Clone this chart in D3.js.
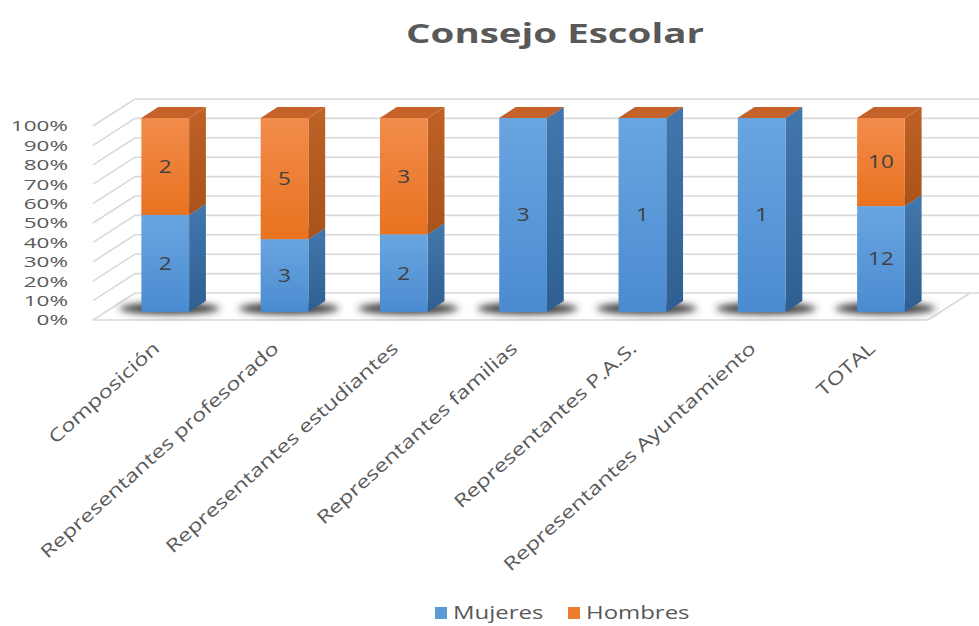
<!DOCTYPE html>
<html><head><meta charset="utf-8">
<script src="https://cdn.jsdelivr.net/npm/d3@7/dist/d3.min.js"></script>
<style>body{margin:0;background:#fff}svg{display:block}text{font-family:"Open Sans",sans-serif}</style>
</head><body>
<svg id="c" width="979" height="626"></svg>
<script>
const categories = ["Composición","Representantes profesorado","Representantes estudiantes","Representantes familias","Representantes P.A.S.","Representantes Ayuntamiento","TOTAL"];
const mujeres = [2,3,2,3,1,1,12];
const hombres = [2,5,3,0,0,0,10];
const seriesNames = ["Mujeres","Hombres"];
const yTicks = [0,0.1,0.2,0.3,0.4,0.5,0.6,0.7,0.8,0.9,1];

const svg = d3.select("#c");
function stretch(sel, f){ sel.each(function(){ const L=this.getComputedTextLength(); d3.select(this).attr("textLength",L*f).attr("lengthAdjust","spacingAndGlyphs"); }); }

const x = d3.scaleBand().domain(categories).range([93,928]).paddingInner(0.6).paddingOuter(0.3);
const y = d3.scaleLinear().domain([0,1]).range([320,126]);
const DX = 42, DY = 27;
const P = (xs, v, z) => [xs + z*DX, y(v) - z*DY];
const Z0 = 0.3, Z1 = 0.7;

const defs = svg.append("defs");
function grad(id, c1, c2){ const g=defs.append("linearGradient").attr("id",id).attr("x1",0).attr("y1",0).attr("x2",0).attr("y2",1);
  g.append("stop").attr("offset",0).attr("stop-color",c1); g.append("stop").attr("offset",1).attr("stop-color",c2); }
grad("bF","#69a5e0","#4a8bd0"); grad("bS","#4277ad","#2f5f92");
grad("oF","#f28c4c","#e8721f"); grad("oS","#bf6226","#a9521a");
defs.append("filter").attr("id","blur").attr("x","-50%").attr("y","-100%").attr("width","200%").attr("height","300%")
  .append("feGaussianBlur").attr("stdDeviation",3.5);

// title
svg.append("text").attr("x",555).attr("y",43).attr("text-anchor","middle").attr("font-size",26).attr("font-weight",700)
  .attr("fill","#595959").text("Consejo Escolar").call(stretch,1.48);

// gridlines
const grid = svg.append("g").attr("stroke","#d9d9d9").attr("stroke-width",1.6).attr("fill","none");
const [gx0, gx1] = x.range();
yTicks.forEach(t => {
  const a = P(gx0,t,0), b = P(gx0,t,1), c = P(gx1+10,t,1);
  grid.append("path").attr("d", d3.line()([a,b,c]));
});
grid.append("path").attr("d", d3.line()([P(gx0,0,0),P(gx1,0,0),P(gx1,0,1)]));

// y tick labels
svg.append("g").selectAll("text").data(yTicks).join("text")
  .attr("x",68).attr("y",d=>y(d)).attr("dy","0.36em").attr("text-anchor","end")
  .attr("font-size",15).attr("fill","#595959").text(d=>Math.round(d*100)+"%").call(stretch,1.5);

// shadows
const bw = x.bandwidth();
svg.append("g").attr("filter","url(#blur)").selectAll("ellipse").data(categories).join("ellipse")
  .attr("cx",d=>P(x(d)+bw/2,0,0.5)[0]-4).attr("cy",d=>P(x(d)+bw/2,0,0.5)[1]+2)
  .attr("rx",50).attr("ry",6).attr("fill","#2e2e2e").attr("opacity",0.9);

// bars
const data = categories.map((c,i)=>{ const tot=mujeres[i]+hombres[i];
  return {c, segs:[{s:0,v0:0,v1:mujeres[i]/tot,val:mujeres[i]},{s:1,v0:mujeres[i]/tot,v1:1,val:hombres[i]}]}; });
const fills = [["url(#bF)","url(#bS)","#5a93cc"],["url(#oF)","url(#oS)","#c4622a"]];
const bars = svg.append("g");
data.forEach(d=>{
  const x0 = x(d.c), x1 = x0+bw;
  d.segs.forEach(s=>{
    const g = bars.append("g");
    const [f, sd, tp] = fills[s.s];
    g.append("path").attr("fill",sd).attr("d", d3.line()([P(x1,s.v0,Z0),P(x1,s.v0,Z1),P(x1,s.v1,Z1),P(x1,s.v1,Z0)])+"Z");
    const a = P(x0,s.v1,Z0), b = P(x1,s.v0,Z0);
    g.append("rect").attr("x",a[0]).attr("y",a[1]).attr("width",b[0]-a[0]).attr("height",Math.max(0,b[1]-a[1])).attr("fill",f);
    g.append("path").attr("fill",tp).attr("d", d3.line()([P(x0,s.v1,Z0),P(x1,s.v1,Z0),P(x1,s.v1,Z1),P(x0,s.v1,Z1)])+"Z");
  });
});
// data labels
const lab = [];
data.forEach(d=>d.segs.forEach(s=>{ if(s.val>0) lab.push({c:d.c,v:(s.v0+s.v1)/2,val:s.val}); }));
svg.append("g").selectAll("text").data(lab).join("text")
  .attr("x",d=>P(x(d.c)+bw/2,d.v,Z0)[0]).attr("y",d=>P(x(d.c)+bw/2,d.v,Z0)[1]).attr("dy","0.36em")
  .attr("text-anchor","middle").attr("font-size",18).attr("fill","#404040").text(d=>d.val).call(stretch,1.25);

// category labels
svg.append("g").selectAll("text").data(categories).join("text")
  .attr("transform",d=>`translate(${x(d)+bw/2+8},350) rotate(-42)`)
  .attr("text-anchor","end").attr("font-size",18).attr("fill","#595959").text(d=>d).call(stretch,1.3);

// legend
const leg = svg.append("g");
const legX = [435, 568];
seriesNames.forEach((n,i)=>{
  leg.append("rect").attr("x",legX[i]).attr("y",607).attr("width",12).attr("height",12).attr("fill",i?"#ed7d31":"#5b9bd5");
  leg.append("text").attr("x",legX[i]+18).attr("y",613).attr("dy","0.36em").attr("font-size",18).attr("fill","#595959").text(n).call(stretch,1.33);
});
</script></body></html>
